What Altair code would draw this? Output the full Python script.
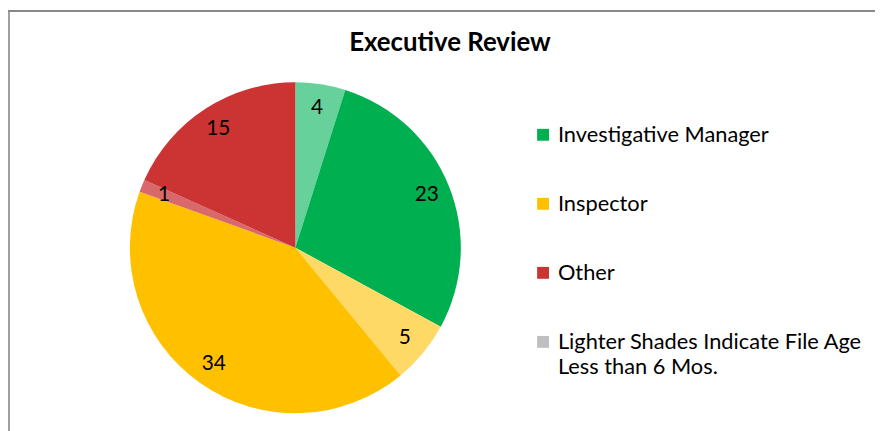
import altair as alt
import pandas as pd

# Pie slices, clockwise from 12 o'clock
slice_names = ["Investigative Manager (<6 Mos.)", "Investigative Manager",
               "Inspector (<6 Mos.)", "Inspector",
               "Other (<6 Mos.)", "Other"]
slice_values = [4, 23, 5, 34, 1, 15]
slice_colors = ["#66D19A", "#00B050", "#FFD966", "#FFC000", "#D9686A", "#CC3333"]

legend_labels = ["Investigative Manager", "Inspector", "Other",
                 "Lighter Shades Indicate File Age\nLess than 6 Mos."]
legend_colors = ["#00B050", "#FFC000", "#CC3333", "#BFBFBF"]

title_text = "Executive Review"
FONT = "Lato"

pie_df = pd.DataFrame({"name": slice_names, "value": slice_values,
                       "order": list(range(len(slice_names)))})
leg_df = pd.DataFrame({"label": legend_labels, "color": legend_colors})

cx, cy, R = 290, 240, 167

base = alt.Chart(pie_df).encode(
    theta=alt.Theta("value:Q", stack=True),
    order=alt.Order("order:Q"),
    x=alt.value(cx), y=alt.value(cy),
)

arcs = base.mark_arc(radius=R, stroke=None).encode(
    color=alt.Color("name:N", scale=alt.Scale(domain=slice_names, range=slice_colors),
                    legend=None)
)

labels = base.mark_text(radius=143, font=FONT, fontSize=21, color="#000000").encode(
    text=alt.Text("value:Q")
)

ly = alt.Y("label:N", sort=None, axis=None,
           scale=alt.Scale(type="point", range=[126, 335], padding=0))

leg_sq = alt.Chart(leg_df).mark_square(size=144, opacity=1, filled=True).encode(
    x=alt.value(540), y=ly,
    color=alt.Color("color:N", scale=None, legend=None),
)
leg_tx = alt.Chart(leg_df).mark_text(align="left", baseline="top", dy=-10,
                                     font=FONT, fontSize=22, lineBreak="\n",
                                     lineHeight=25, color="#000000").encode(
    x=alt.value(555), y=ly, text="label:N"
)

title = alt.Chart(pd.DataFrame({"t": [title_text]})).mark_text(
    font=FONT, fontSize=26, fontWeight="bold", baseline="middle", align="center",
    color="#000000"
).encode(x=alt.value(446), y=alt.value(33), text="t:N")

border_top = alt.Chart(pd.DataFrame({"a": [0]})).mark_rule(color="#888888", strokeWidth=2).encode(
    x=alt.value(0), x2=alt.value(900), y=alt.value(1)
)
border_left = alt.Chart(pd.DataFrame({"a": [0]})).mark_rule(color="#888888", strokeWidth=1.6).encode(
    x=alt.value(1), y=alt.value(0), y2=alt.value(430)
)

chart = alt.layer(border_top, border_left, arcs, labels, leg_sq, leg_tx, title).properties(
    width=875, height=423, padding=0, autosize="none", background="#FFFFFF"
).configure_view(stroke=None)

chart.save("out.html", embed_options={"renderer": "svg", "actions": False})
